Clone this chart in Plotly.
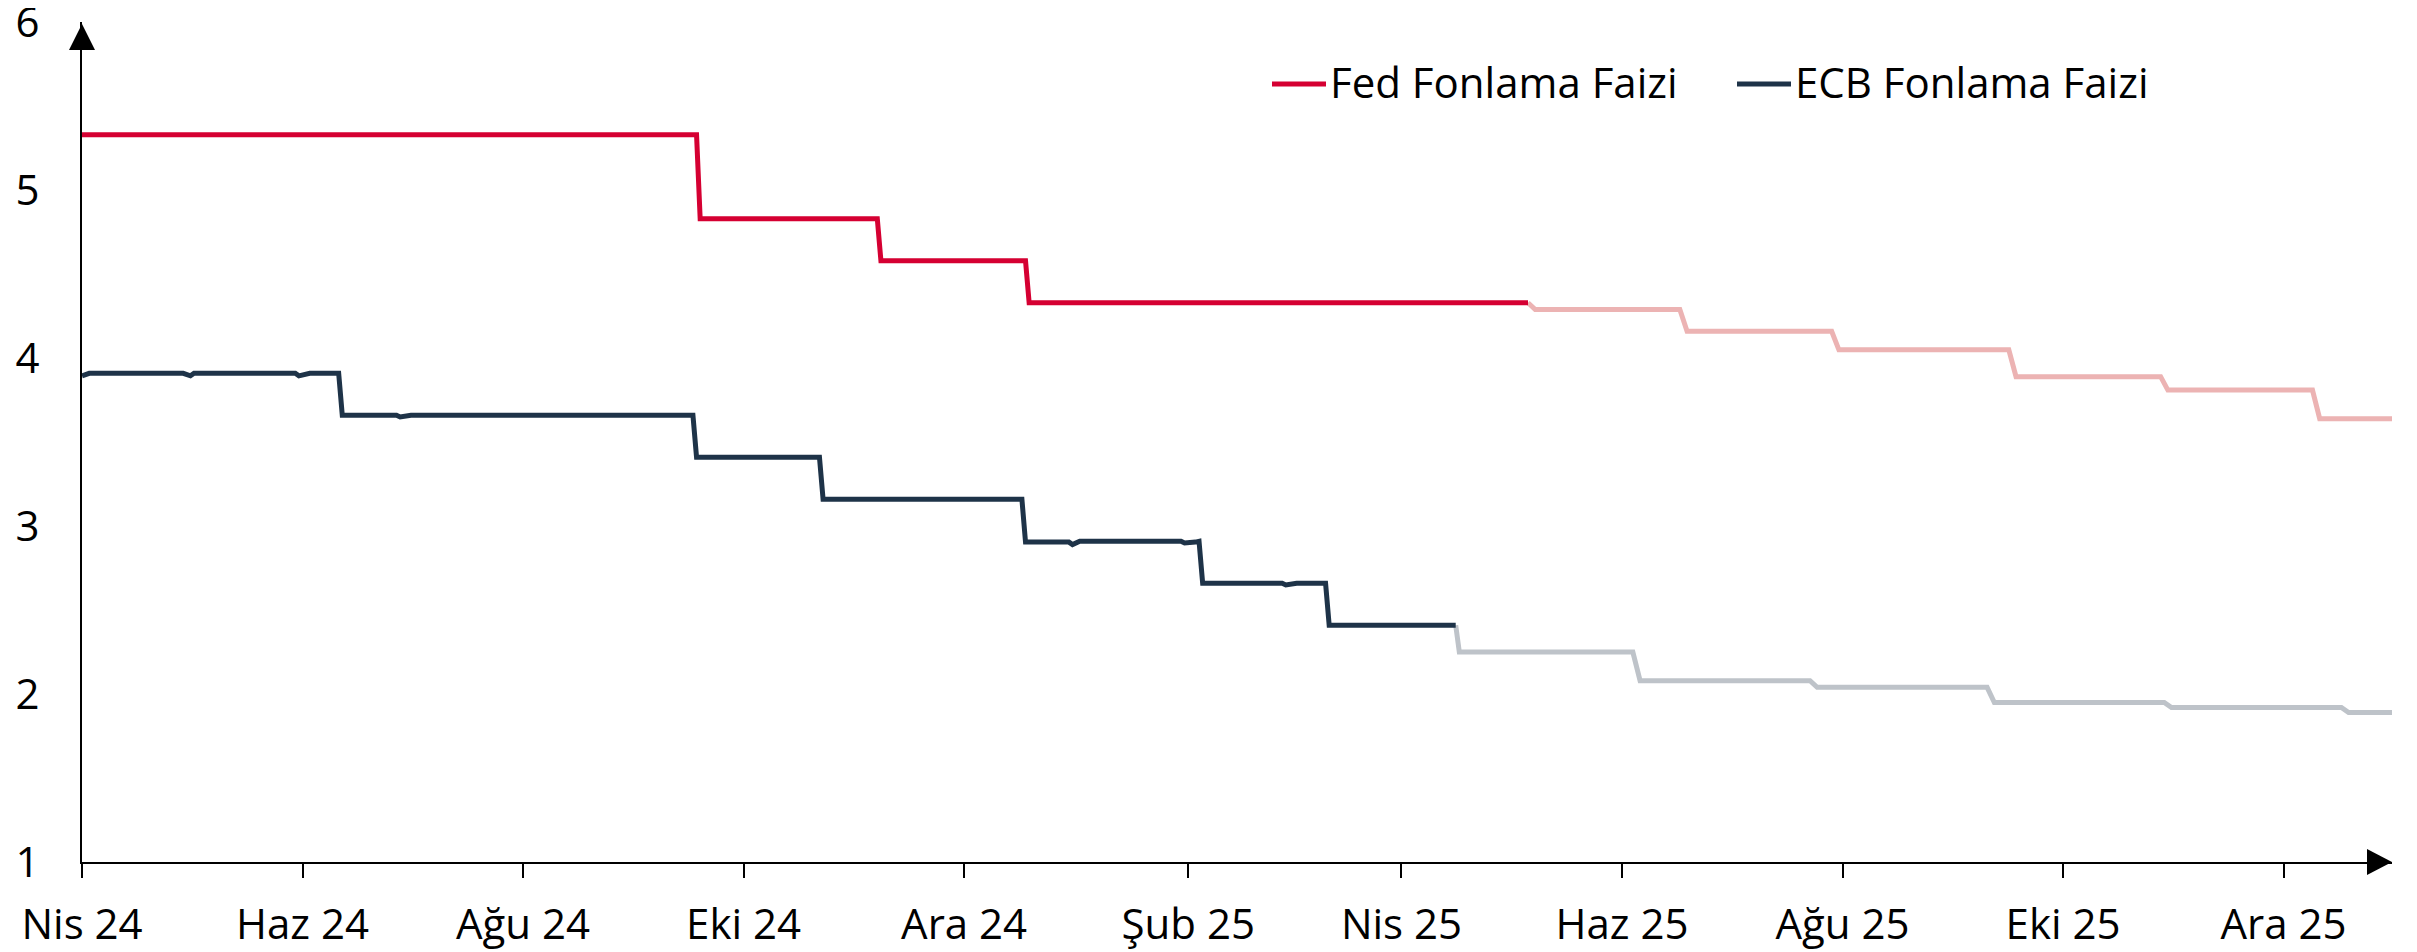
import plotly.graph_objects as go

# ---------------- data ----------------
fed_dates = ["2024-04-01", "2024-09-18", "2024-09-19", "2024-11-07", "2024-11-08",
             "2024-12-18", "2024-12-19", "2025-05-06"]
fed_values = [5.33, 5.33, 4.83, 4.83, 4.58, 4.58, 4.33, 4.33]

fed_proj_dates = ["2025-05-06", "2025-05-08", "2025-06-17", "2025-06-19", "2025-07-29",
                  "2025-07-31", "2025-09-16", "2025-09-18", "2025-10-28", "2025-10-30",
                  "2025-12-09", "2025-12-11", "2025-12-31"]
fed_proj_values = [4.33, 4.29, 4.29, 4.16, 4.16, 4.05, 4.05, 3.89, 3.89, 3.81, 3.81, 3.64, 3.64]

ecb_dates = ["2024-04-01", "2024-04-03", "2024-04-29", "2024-04-30", "2024-05-01", "2024-05-02",
             "2024-05-30", "2024-05-31", "2024-06-03", "2024-06-11",
             "2024-06-12", "2024-06-27", "2024-06-28", "2024-07-01", "2024-07-30", "2024-07-31",
             "2024-08-01", "2024-08-29", "2024-08-30", "2024-09-02", "2024-09-17",
             "2024-09-18", "2024-09-27", "2024-09-30", "2024-10-01", "2024-10-22",
             "2024-10-23", "2024-10-30", "2024-10-31", "2024-11-01", "2024-12-17",
             "2024-12-18", "2024-12-30", "2024-12-31", "2025-01-02", "2025-01-30", "2025-01-31",
             "2025-02-03", "2025-02-04",
             "2025-02-05", "2025-02-27", "2025-02-28", "2025-03-03", "2025-03-11",
             "2025-03-12", "2025-04-16"]
ecb_values = [3.895, 3.91, 3.91, 3.90, 3.895, 3.91,
              3.91, 3.895, 3.91, 3.91,
              3.66, 3.66, 3.65, 3.66, 3.66, 3.655,
              3.66, 3.66, 3.655, 3.66, 3.66,
              3.41, 3.41, 3.405, 3.41, 3.41,
              3.16, 3.16, 3.155, 3.16, 3.16,
              2.905, 2.905, 2.89, 2.91, 2.91, 2.90,
              2.905, 2.91,
              2.66, 2.66, 2.65, 2.66, 2.66,
              2.41, 2.41]

ecb_proj_dates = ["2025-04-16", "2025-04-17", "2025-06-04", "2025-06-06", "2025-07-23",
                  "2025-07-25", "2025-09-10", "2025-09-12", "2025-10-29", "2025-10-31",
                  "2025-12-17", "2025-12-19", "2025-12-31"]
ecb_proj_values = [2.41, 2.25, 2.25, 2.08, 2.08, 2.04, 2.04, 1.95, 1.95, 1.92, 1.92, 1.89, 1.89]

tick_dates = ["2024-04-01", "2024-06-01", "2024-08-01", "2024-10-01", "2024-12-01",
              "2025-02-01", "2025-04-01", "2025-06-01", "2025-08-01", "2025-10-01",
              "2025-12-01"]
tick_labels = ["Nis 24", "Haz 24", "Ağu 24", "Eki 24", "Ara 24", "Şub 25",
               "Nis 25", "Haz 25", "Ağu 25", "Eki 25", "Ara 25"]
y_ticks = [1, 2, 3, 4, 5, 6]

series_names = ["Fed Fonlama Faizi", "ECB Fonlama Faizi"]

# ---------------- style ----------------
RED = "#D50032"
NAVY = "#1E3348"
RED_LIGHT = "#ECB3B3"
GREY_LIGHT = "#BEC3C9"
FONT = "Open Sans"
FS = 42
LW = 5

OFF = 8                      # default page body margin
W, H = 2417 - OFF, 952 - OFF
ML, MR, MT, MB = 74, 25, 14, 90
PW = W - ML - MR
PH = H - MT - MB

fig = go.Figure()
fig.add_trace(go.Scatter(x=fed_proj_dates, y=fed_proj_values, mode="lines",
                         line=dict(color=RED_LIGHT, width=LW), showlegend=False,
                         name=series_names[0] + " (beklenti)"))
fig.add_trace(go.Scatter(x=ecb_proj_dates, y=ecb_proj_values, mode="lines",
                         line=dict(color=GREY_LIGHT, width=LW), showlegend=False,
                         name=series_names[1] + " (beklenti)"))
fig.add_trace(go.Scatter(x=fed_dates, y=fed_values, mode="lines",
                         line=dict(color=RED, width=LW), showlegend=False,
                         name=series_names[0]))
fig.add_trace(go.Scatter(x=ecb_dates, y=ecb_values, mode="lines",
                         line=dict(color=NAVY, width=LW), showlegend=False,
                         name=series_names[1]))


# helpers: page pixel -> paper coordinate
def px2x(px):
    return (px - OFF - ML) / PW


def px2y(py):
    return 1 - (py - OFF - MT) / PH


x_left = OFF + ML
x_right = OFF + ML + PW
y_bottom = OFF + MT + PH

shapes = []
# y-axis arrow head
shapes.append(dict(type="path", xref="paper", yref="paper",
                   path=(f"M {px2x(x_left)},{px2y(24)} L {px2x(x_left-13)},{px2y(50)} "
                         f"L {px2x(x_left+13)},{px2y(50)} Z"),
                   fillcolor="black", line=dict(width=0)))
# x-axis arrow head
shapes.append(dict(type="path", xref="paper", yref="paper",
                   path=(f"M {px2x(x_right)},{px2y(y_bottom)} L {px2x(x_right-25)},{px2y(y_bottom-13)} "
                         f"L {px2x(x_right-25)},{px2y(y_bottom+13)} Z"),
                   fillcolor="black", line=dict(width=0)))

# custom legend
leg_y = 82
legend_items = [(1272, 1326, 1328, RED, series_names[0]),
                (1737, 1791, 1793, NAVY, series_names[1])]
annotations = []
for x0, x1, xt, col, txt in legend_items:
    shapes.append(dict(type="line", xref="paper", yref="paper",
                       x0=px2x(x0), x1=px2x(x1), y0=px2y(leg_y + 2), y1=px2y(leg_y + 2),
                       line=dict(color=col, width=5)))
    annotations.append(dict(xref="paper", yref="paper", x=px2x(xt), y=px2y(leg_y),
                            xanchor="left", yanchor="middle", showarrow=False,
                            text=txt, font=dict(family=FONT, size=FS, color="black")))

fig.update_layout(
    template="none",
    width=W, height=H,
    margin=dict(l=ML, r=MR, t=MT, b=MB, pad=0, autoexpand=False),
    plot_bgcolor="white", paper_bgcolor="white",
    font=dict(family=FONT, size=FS, color="black"),
    showlegend=False,
    shapes=shapes,
    annotations=annotations,
    xaxis=dict(type="date", range=["2024-04-01", "2025-12-31"], automargin=False,
               showline=True, linecolor="black", linewidth=2,
               ticks="outside", ticklen=14, tickwidth=2, tickcolor="black",
               tickvals=tick_dates, ticktext=tick_labels, ticklabelstandoff=11,
               ticklabeloverflow="allow",
               showgrid=False, zeroline=False,
               tickfont=dict(family=FONT, size=FS, color="black")),
    yaxis=dict(range=[1, 6.002], automargin=False,
               showline=True, linecolor="black", linewidth=2,
               ticks="", tickvals=y_ticks, ticktext=[str(v) for v in y_ticks],
               ticklabelstandoff=32, ticklabeloverflow="allow",
               showgrid=False, zeroline=False,
               tickfont=dict(family=FONT, size=FS, color="black")),
)

fig.write_html("out.html")
